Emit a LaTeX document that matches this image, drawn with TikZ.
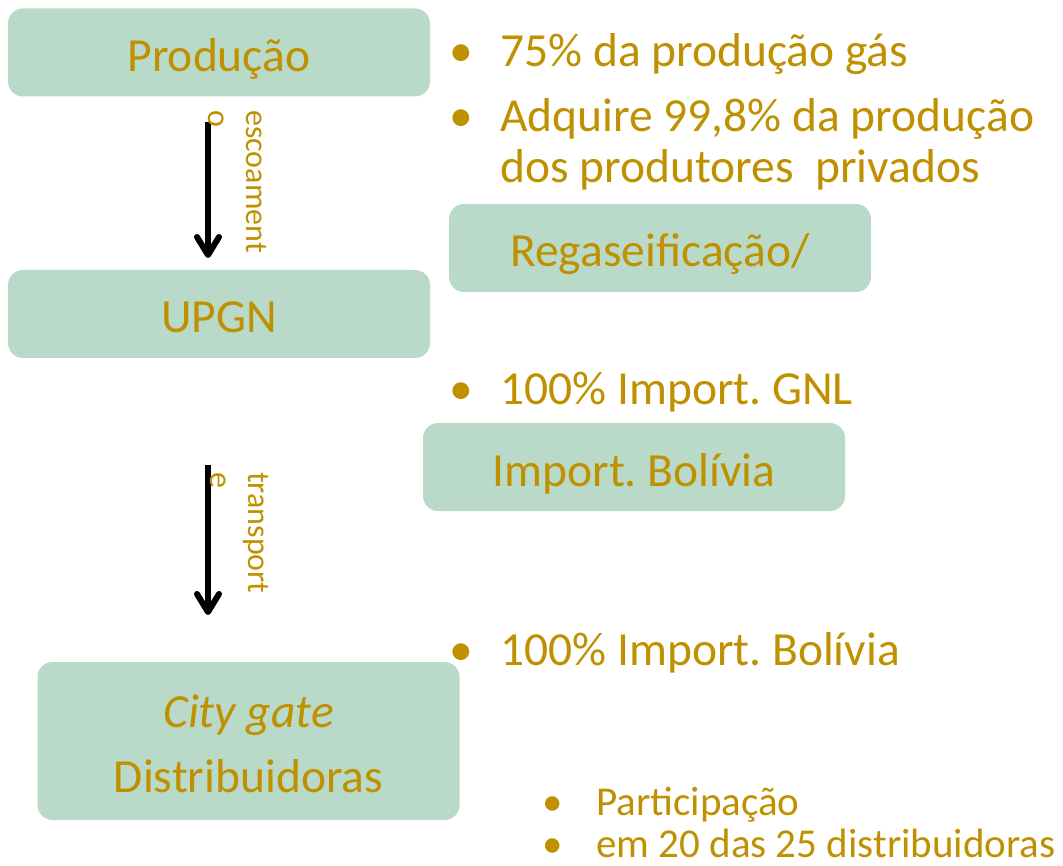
\documentclass[tikz,border=0pt]{standalone}
\usepackage{fontspec}
\setmainfont{Carlito}
\frenchspacing
\usetikzlibrary{arrows.meta}
\definecolor{gold}{RGB}{191,144,0}
\definecolor{mint}{RGB}{185,218,200}
\begin{document}
\begin{tikzpicture}[x=1pt,y=-1pt,
  box/.style={fill=mint, rounded corners=15pt, inner sep=0pt, text=gold,
    minimum width=422pt, minimum height=88pt,
    font=\fontsize{47.5}{55}\selectfont, text height=44pt, text depth=6pt},
  big/.style={text=gold, inner sep=0pt, anchor=base west, align=left,
    font=\fontsize{47.5}{51}\selectfont},
  small/.style={text=gold, inner sep=0pt, anchor=base west, align=left,
    font=\fontsize{41}{42}\selectfont},
  bul/.style={text=gold, inner sep=0pt, anchor=base, font=\fontsize{47.5}{51}\selectfont},
  sbul/.style={text=gold, inner sep=0pt, anchor=base, font=\fontsize{41}{42}\selectfont},
  vlab/.style={text=gold, inner sep=0pt, rotate=-90, anchor=north west, align=left,
    font=\fontsize{32}{38}\selectfont},
  shaft/.style={line width=5.5pt},
  head/.style={line width=6pt, line cap=round, line join=round}]
\useasboundingbox (0,0) rectangle (1063,866);

% boxes
\node[box] (prod) at (219,52.5) {Produção};
\node[box] (upgn) at (219,314) {UPGN};
\node[box] (rega) at (660,248) {Regaseificação/};
\node[box] (bol) at (634,467) {Import. Bolívia};
\node[box, minimum height=158pt, text height=, text depth=] (city) at (248.5,741) {};
\node[text=gold, inner sep=0pt, align=center, font=\fontsize{47.5}{65}\selectfont,
  anchor=base] (citytxt) at (248.5,792) {\textit{City gate}\\Distribuidoras};

% arrows
\coordinate (a1s) at (208,122);
\coordinate (a1e) at (208,255);
\coordinate (a2s) at (208,465);
\coordinate (a2e) at (208,612);
\draw[shaft] (a1s) -- (a1e);
\draw[head] ([xshift=-11pt,yshift=18pt]a1e) -- (a1e) -- ([xshift=11pt,yshift=18pt]a1e);
\draw[shaft] (a2s) -- (a2e);
\draw[head] ([xshift=-11pt,yshift=18pt]a2e) -- (a2e) -- ([xshift=11pt,yshift=18pt]a2e);
\node[vlab] (l1) at (267,110) {escoament\\o};
\node[vlab] (l2) at (269,472) {transport\\e};

% bullets
\node[bul] (b1) at (461,67) {•};
\node[big] (t1) at (500,67) {75\% da produção gás};
\node[bul] (b2) at (461,132) {•};
\node[big] (t2) at (500,183) {Adquire 99,8\% da produção\\dos produtores~ privados};
\node[bul] (b3) at (461,405) {•};
\node[big] (t3) at (500,405) {100\% Import. GNL};
\node[bul] (b4) at (461,665) {•};
\node[big] (t4) at (500,665) {100\% Import. Bolívia};
\node[sbul] (b5) at (553,815) {•};
\node[small] (t5) at (596,815) {Participação};
\node[sbul] (b6) at (553,857) {•};
\node[small] (t6) at (596,857) {em 20 das 25 distribuidoras};
\end{tikzpicture}
\end{document}
